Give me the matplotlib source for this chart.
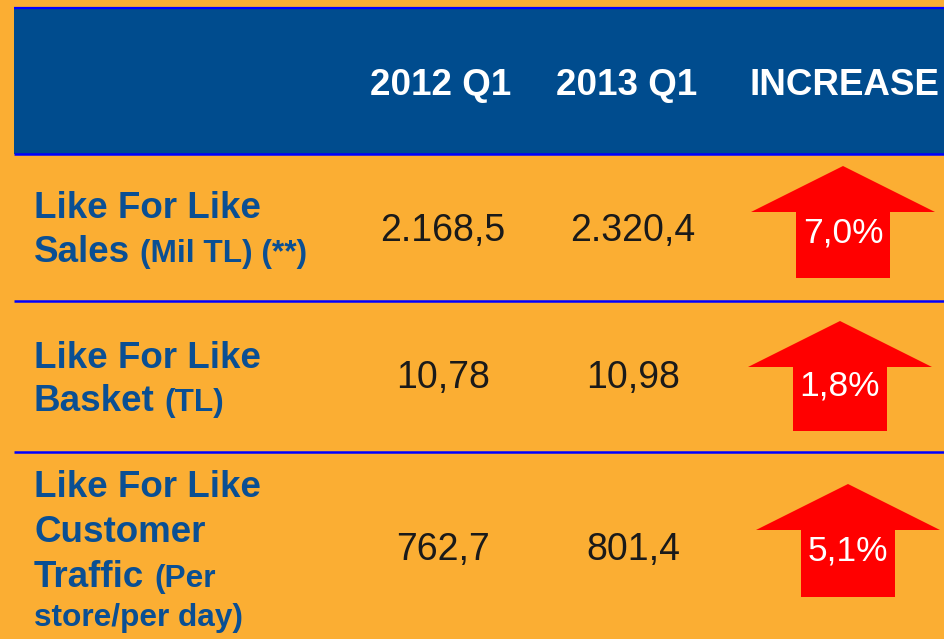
import matplotlib.pyplot as plt
from matplotlib.patches import Polygon, Rectangle

plt.rcParams['font.family'] = ['Liberation Sans', 'DejaVu Sans']

# Table data
columns = ["2012 Q1", "2013 Q1", "INCREASE"]
row_titles = [
    ["Like For Like", "Sales"],
    ["Like For Like", "Basket"],
    ["Like For Like", "Customer", "Traffic"],
]
row_units = ["(Mil TL) (**)", "(TL)", "(Per\nstore/per day)"]
values_2012 = [2168.5, 10.78, 762.7]
values_2013 = [2320.4, 10.98, 801.4]
decimals = [1, 2, 1]
increase_pct = [7.0, 1.8, 5.1]

ORANGE = '#FBAE33'
HEAD_BLUE = '#004C8E'
TEXT_BLUE = '#0A4F93'
LINE_BLUE = '#0000FF'
RED = '#FF0000'


def tr_fmt(v, d):
    s = f"{v:,.{d}f}"
    return s.replace(',', '#').replace('.', ',').replace('#', '.')


fig = plt.figure(figsize=(9.45, 6.39), dpi=100, facecolor=ORANGE)
ax = fig.add_axes([0, 0, 1, 1])
ax.set_xlim(0, 945)
ax.set_ylim(639, 0)
ax.axis('off')
ax.set_facecolor(ORANGE)

# Header band
ax.add_patch(Rectangle((14, 8), 945 - 14, 146, color=HEAD_BLUE, lw=0))
ax.plot([14, 945], [7.5, 7.5], color=LINE_BLUE, lw=1.6, solid_capstyle='butt')
ax.plot([14, 945], [154, 154], color=LINE_BLUE, lw=1.8, solid_capstyle='butt')
for y in [301, 452]:
    ax.plot([14, 945], [y, y], color=LINE_BLUE, lw=1.8, solid_capstyle='butt')

col_x = [441, 627, 844]
for cx, name in zip(col_x, columns):
    ax.text(cx, 95, name, ha='center', va='baseline', fontsize=26.5,
            fontweight='bold', color='white')

# Row layout
title_baselines = [[218, 262], [368, 411], [497, 542, 587]]
unit_last_baseline = [262, 411, 626]
value_centers = [231, 378, 550]
arrow_cx = [843, 840, 848]
arrow_top = [166, 321, 484]
arrow_bottom = [278, 431, 597]
pct_centers = [233, 386, 551]

fig.canvas.draw()
renderer = fig.canvas.get_renderer()

for i in range(3):
    # Titles
    last = None
    for line, yb in zip(row_titles[i], title_baselines[i]):
        last = ax.text(34, yb, line, ha='left', va='baseline', fontsize=26.5,
                       fontweight='bold', color=TEXT_BLUE)
    # Units following the last bold word
    bb = last.get_window_extent(renderer)
    unit_lines = row_units[i].split('\n')
    ax.text(bb.x1 + 10, title_baselines[i][-1], unit_lines[0], ha='left',
            va='baseline', fontsize=22.8, fontweight='bold', color=TEXT_BLUE)
    if len(unit_lines) > 1:
        ax.text(34, unit_last_baseline[i], unit_lines[1], ha='left',
                va='baseline', fontsize=22.8, fontweight='bold', color=TEXT_BLUE)

    # Values
    ax.text(443, value_centers[i], tr_fmt(values_2012[i], decimals[i]),
            ha='center', va='center', fontsize=27, color='#1A1A1A')
    ax.text(633, value_centers[i], tr_fmt(values_2013[i], decimals[i]),
            ha='center', va='center', fontsize=27, color='#1A1A1A')

    # Arrow
    cx, top, bot = arrow_cx[i], arrow_top[i], arrow_bottom[i]
    head_h, head_w, shaft_w = 46, 92, 47
    pts = [(cx, top), (cx + head_w, top + head_h), (cx + shaft_w, top + head_h),
           (cx + shaft_w, bot), (cx - shaft_w, bot), (cx - shaft_w, top + head_h),
           (cx - head_w, top + head_h)]
    ax.add_patch(Polygon(pts, closed=True, color=RED, lw=0))
    ax.text(cx, pct_centers[i], tr_fmt(increase_pct[i], 1) + '%',
            ha='center', va='center', fontsize=25.5, color='white')

fig.savefig('out.png', dpi=100, facecolor=ORANGE)
